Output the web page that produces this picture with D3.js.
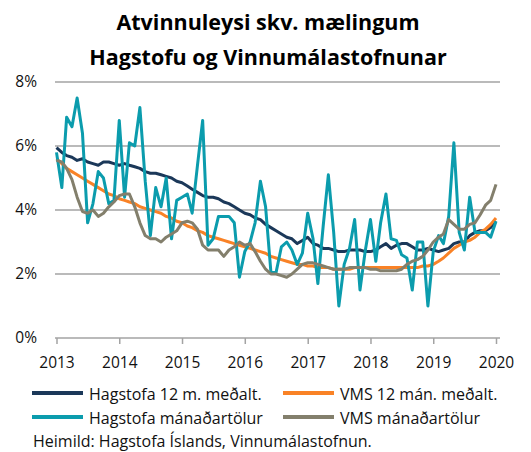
<!DOCTYPE html>
<html>
<head>
<meta charset="utf-8">
<script src="https://cdn.jsdelivr.net/npm/d3@7"></script>
<style>
  body { margin: 0; background: #fff; }
  svg { display: block; }
  text { font-family: "Open Sans", sans-serif; fill: #111; }
</style>
</head>
<body>
<svg id="chart" width="531" height="452"></svg>
<script>
// atvinnuleysi, manadarleg gildi jan 2013 - jan 2020 (%)
var hagMonthly = [
  5.8, 4.7, 6.9, 6.6, 7.5, 6.4, 3.6, 4.2, 5.2, 5.0, 4.2, 4.3,
  6.8, 4.4, 6.1, 6.0, 7.2, 4.9, 3.2, 4.7, 4.1, 5.0, 3.1, 4.3,
  4.4, 4.5, 3.9, 5.4, 6.8, 2.9, 3.1, 3.8, 3.8, 3.8, 3.6, 1.9,
  2.7, 3.0, 3.6, 4.9, 4.1, 2.05, 2.05, 2.85, 3.0, 2.75, 2.3, 2.65,
  3.9, 3.1, 1.7, 3.5, 5.1, 3.3, 1.0, 2.3, 2.8, 3.7, 1.5, 2.7,
  3.7, 2.4, 3.6, 4.5, 3.1, 3.05, 2.6, 2.5, 1.5, 3.0, 3.0, 1.0,
  2.7, 3.2, 2.95, 3.8, 6.1, 3.3, 2.75, 4.4, 3.3, 3.3, 3.3, 3.15,
  3.65
];
var hag12 = [
  5.95, 5.8, 5.7, 5.65, 5.55, 5.6, 5.5, 5.45, 5.4, 5.5, 5.5, 5.45,
  5.4, 5.45, 5.4, 5.35, 5.3, 5.2, 5.15, 5.15, 5.1, 5.05, 5.0, 4.9,
  4.85, 4.75, 4.65, 4.55, 4.45, 4.4, 4.4, 4.35, 4.25, 4.2, 4.1, 4.0,
  3.9, 3.85, 3.75, 3.7, 3.55, 3.45, 3.35, 3.25, 3.15, 3.1, 2.95, 3.05,
  3.15, 2.95, 2.9, 2.8, 2.8, 2.75, 2.7, 2.7, 2.75, 2.75, 2.75, 2.7,
  2.7, 2.75, 2.85, 2.95, 2.8, 2.9, 2.95, 2.95, 2.85, 2.75, 2.75, 2.8,
  2.75, 2.7, 2.75, 2.8, 2.95, 3.0, 3.0, 3.2, 3.3, 3.35, 3.35, 3.45,
  3.65
];
var vms12 = [
  5.6, 5.45, 5.3, 5.2, 5.1, 5.0, 4.9, 4.8, 4.7, 4.6, 4.5, 4.45,
  4.35, 4.3, 4.25, 4.2, 4.1, 4.05, 4.0, 3.95, 3.9, 3.8, 3.75, 3.65,
  3.6, 3.5, 3.45, 3.35, 3.3, 3.2, 3.15, 3.1, 3.05, 3.0, 2.95, 2.9,
  2.85, 2.8, 2.75, 2.7, 2.65, 2.55, 2.5, 2.45, 2.4, 2.35, 2.3, 2.3,
  2.25, 2.25, 2.2, 2.2, 2.2, 2.15, 2.15, 2.15, 2.15, 2.2, 2.2, 2.2,
  2.2, 2.2, 2.2, 2.2, 2.2, 2.2, 2.2, 2.2, 2.2, 2.2, 2.25, 2.25,
  2.3, 2.4, 2.5, 2.65, 2.8, 2.9, 3.0, 3.05, 3.15, 3.3, 3.4, 3.55,
  3.75
];
var vmsMonthly = [
  5.55, 5.5, 5.3, 4.95, 4.4, 3.95, 3.9, 4.0, 3.8, 3.9, 4.1, 4.25,
  4.45, 4.5, 4.5, 4.1, 3.6, 3.2, 3.1, 3.1, 3.0, 3.15, 3.25, 3.35,
  3.6, 3.65, 3.6, 3.4, 2.9, 2.75, 2.75, 2.75, 2.55, 2.75, 2.85, 3.0,
  2.9, 2.95, 2.7, 2.4, 2.15, 2.0, 2.0, 1.95, 1.9, 2.0, 2.15, 2.3,
  2.35, 2.35, 2.3, 2.25, 2.2, 2.15, 2.15, 2.15, 2.2, 2.2, 2.2, 2.2,
  2.15, 2.15, 2.1, 2.1, 2.1, 2.1, 2.15, 2.3, 2.4, 2.45, 2.55, 2.75,
  3.0, 3.15, 3.25, 3.7, 3.55, 3.4, 3.4, 3.55, 3.6, 3.85, 4.15, 4.3,
  4.8
];
var years = [2013, 2014, 2015, 2016, 2017, 2018, 2019, 2020];
var yTicks = [0, 2, 4, 6, 8];
var titleLines = ["Atvinnuleysi skv. mælingum", "Hagstofu og Vinnumálastofnunar"];
var source = "Heimild: Hagstofa Íslands, Vinnumálastofnun.";

var months = hagMonthly.map(function(d, i) { return new Date(2013, i, 1); });

var series = [
  { name: "Hagstofa 12 m. meðalt.", values: hag12, color: "#1b3859", col: 0, row: 0 },
  { name: "VMS 12 mán. meðalt.", values: vms12, color: "#f98226", col: 1, row: 0 },
  { name: "Hagstofa mánaðartölur", values: hagMonthly, color: "#0b9cad", col: 0, row: 1 },
  { name: "VMS mánaðartölur", values: vmsMonthly, color: "#837f6c", col: 1, row: 1 }
];

var svg = d3.select("#chart");

var x = d3.scaleTime()
  .domain([new Date(2013, 0, 1), new Date(2020, 0, 1)])
  .range([56.5, 496]);
var y = d3.scaleLinear().domain([0, 8]).range([338, 82]);
var gridLeft = 55, gridRight = 500;

// titill
svg.append("g").selectAll("text")
  .data(titleLines).enter()
  .append("text")
  .attr("x", 268)
  .attr("y", function(d, i) { return 30 + i * 35; })
  .attr("text-anchor", "middle")
  .style("font-size", "21.5px")
  .style("font-weight", "bold")
  .style("fill", "#000")
  .text(function(d) { return d; });

// gridlinur
svg.append("g").selectAll("line")
  .data(yTicks.filter(function(d) { return d > 0; })).enter()
  .append("line")
  .attr("x1", gridLeft).attr("x2", gridRight)
  .attr("y1", function(d) { return y(d); })
  .attr("y2", function(d) { return y(d); })
  .attr("stroke", "#a3a3a3")
  .attr("stroke-width", 1.5);

// y as
svg.append("g").selectAll("text")
  .data(yTicks).enter()
  .append("text")
  .attr("x", 37)
  .attr("y", function(d) { return y(d) + 5; })
  .attr("text-anchor", "end")
  .style("font-size", "15.5px")
  .text(function(d) { return d + "%"; });

// x as
var xAxis = svg.append("g")
  .attr("transform", "translate(0," + y(0) + ")")
  .call(d3.axisBottom(x)
    .tickValues(years.map(function(yr) { return new Date(yr, 0, 1); }))
    .tickFormat(d3.timeFormat("%Y"))
    .tickSize(6)
    .tickPadding(13)
    .tickSizeOuter(0));
xAxis.select(".domain").remove();
xAxis.insert("line", ":first-child")
  .attr("x1", gridLeft).attr("x2", gridRight)
  .attr("stroke", "#a3a3a3").attr("stroke-width", 1.5);
xAxis.selectAll(".tick line").attr("stroke", "#a3a3a3").attr("stroke-width", 1.5);
xAxis.selectAll(".tick text")
  .style("font-size", "15.5px")
  .style("font-family", "'Open Sans', sans-serif")
  .attr("fill", "#111");

// linur
var line = d3.line()
  .x(function(d, i) { return x(months[i]); })
  .y(function(d) { return y(d); });

svg.append("g").selectAll("path")
  .data(series).enter()
  .append("path")
  .attr("d", function(s) { return line(s.values); })
  .attr("fill", "none")
  .attr("stroke", function(s) { return s.color; })
  .attr("stroke-width", 3)
  .attr("stroke-linejoin", "round");

// skyringar
var leg = svg.append("g").selectAll("g")
  .data(series).enter()
  .append("g")
  .attr("transform", function(s) {
    return "translate(" + (32 + s.col * 251) + "," + (393 + s.row * 24) + ")";
  });
leg.append("line")
  .attr("x1", 0).attr("x2", 51)
  .attr("stroke", function(s) { return s.color; })
  .attr("stroke-width", 4);
leg.append("text")
  .attr("x", 57).attr("y", 7)
  .style("font-size", "16px")
  .text(function(s) { return s.name; });

svg.append("text")
  .attr("x", 33).attr("y", 447)
  .style("font-size", "16px")
  .text(source);
</script>
</body>
</html>
